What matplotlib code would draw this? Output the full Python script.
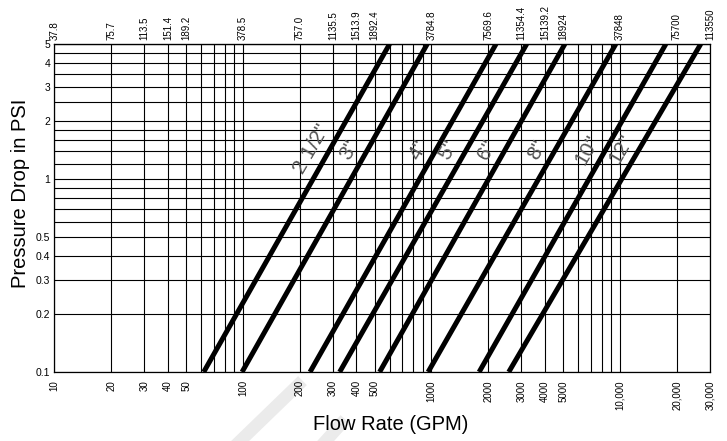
import numpy as np
import matplotlib
matplotlib.use('Agg')
import matplotlib.pyplot as plt
from matplotlib.ticker import NullLocator
from matplotlib.lines import Line2D

plt.rcParams['font.family'] = ['Liberation Sans', 'DejaVu Sans']

# pipe sizes and the flow (GPM) where each line meets 0.1 psi and 5 psi
sizes = ['2 1/2"', '3"', '4"', '5"', '6"', '8"', '10"', '12"']
flow_low = [62, 99, 227, 326, 531, 960, 1790, 2570]
flow_high = [600, 950, 2200, 3200, 5100, 9500, 17500, 26800]
p_low, p_high = 0.1, 5.0

# grid
grid_x = [10, 20, 30, 40, 50, 60, 70, 80, 90,
          100, 200, 300, 400, 500, 600, 700, 800, 900,
          1000, 2000, 3000, 4000, 5000, 6000, 7000, 8000, 9000,
          10000, 20000, 30000]
grid_y = [0.1, 0.2, 0.3, 0.4, 0.5, 0.6, 0.7, 0.8, 0.9,
          1, 1.2, 1.4, 1.6, 1.8, 2, 2.5, 3, 3.5, 4, 4.5, 5]

# tick labels
bottom_ticks = [10, 20, 30, 40, 50, 100, 200, 300, 400, 500,
                1000, 2000, 3000, 4000, 5000, 10000, 20000, 30000]
bottom_labels = ['10', '20', '30', '40', '50', '100', '200', '300', '400', '500',
                 '1000', '2000', '3000', '4000', '5000', '10,000', '20,000', '30,000']
top_labels = ['37.8', '75.7', '113.5', '151.4', '189.2', '378.5', '757.0', '1135.5',
              '1513.9', '1892.4', '3784.8', '7569.6', '11354.4', '15139.2', '18924',
              '37848', '75700', '113550']
y_ticks = [0.1, 0.2, 0.3, 0.4, 0.5, 1, 2, 3, 4, 5]
y_labels = ['0.1', '0.2', '0.3', '0.4', '0.5', '1', '2', '3', '4', '5']
label_p = 1.42

W, H = 727, 441
fig = plt.figure(figsize=(W / 100, H / 100), dpi=100)
ax = fig.add_axes([54.3 / W, 1 - 372 / H, (710 - 54.3) / W, (372 - 44) / H])
ax.set_xscale('log')
ax.set_yscale('log')
ax.set_xlim(10, 30000)
ax.set_ylim(p_low, p_high)

ax.vlines(grid_x, p_low, p_high, color='black', lw=0.8, zorder=1)
ax.hlines(grid_y, 10, 30000, color='black', lw=0.8, zorder=1)

for name, q0, q1 in zip(sizes, flow_low, flow_high):
    ax.plot([q0, q1], [p_low, p_high], color='black', lw=3.6,
            solid_capstyle='butt', zorder=3)
    t = (np.log10(label_p) - np.log10(p_low)) / (np.log10(p_high) - np.log10(p_low))
    q_lab = 10 ** (np.log10(q0) + t * (np.log10(q1) - np.log10(q0)))
    ax.annotate(name, xy=(q_lab, label_p), xytext=(-18, 0), textcoords='offset pixels',
                rotation=60, ha='center', va='center', fontsize=15,
                color='#555555', zorder=4)

ax.set_xticks(bottom_ticks, labels=bottom_labels, rotation=90, fontsize=7)
ax.set_yticks(y_ticks, labels=y_labels, fontsize=7.5)
ax.xaxis.set_minor_locator(NullLocator())
ax.yaxis.set_minor_locator(NullLocator())
ax.tick_params(axis='x', length=0, pad=6)
ax.tick_params(axis='y', length=0, pad=3)
for s in ax.spines.values():
    s.set_linewidth(0.9)

secax = ax.secondary_xaxis('top')
secax.set_xticks(bottom_ticks, labels=top_labels, rotation=90, fontsize=7)
secax.xaxis.set_minor_locator(NullLocator())
secax.tick_params(length=0, pad=3)

fig.text(391 / W, 1 - 424 / H, 'Flow Rate (GPM)', ha='center', va='center', fontsize=14.5)
fig.text(21 / W, 1 - 193 / H, 'Pressure Drop in PSI', ha='center', va='center',
         rotation=90, fontsize=14.5)

# faint watermark strokes at the bottom
for (x0, y0, x1, y1) in [(298, 385, 236, 445), (341, 424, 322, 445)]:
    fig.add_artist(Line2D([x0 / W, x1 / W], [1 - y0 / H, 1 - y1 / H],
                          transform=fig.transFigure, color='#ebebeb', lw=9, zorder=0))

fig.savefig('out.png', dpi=100)
